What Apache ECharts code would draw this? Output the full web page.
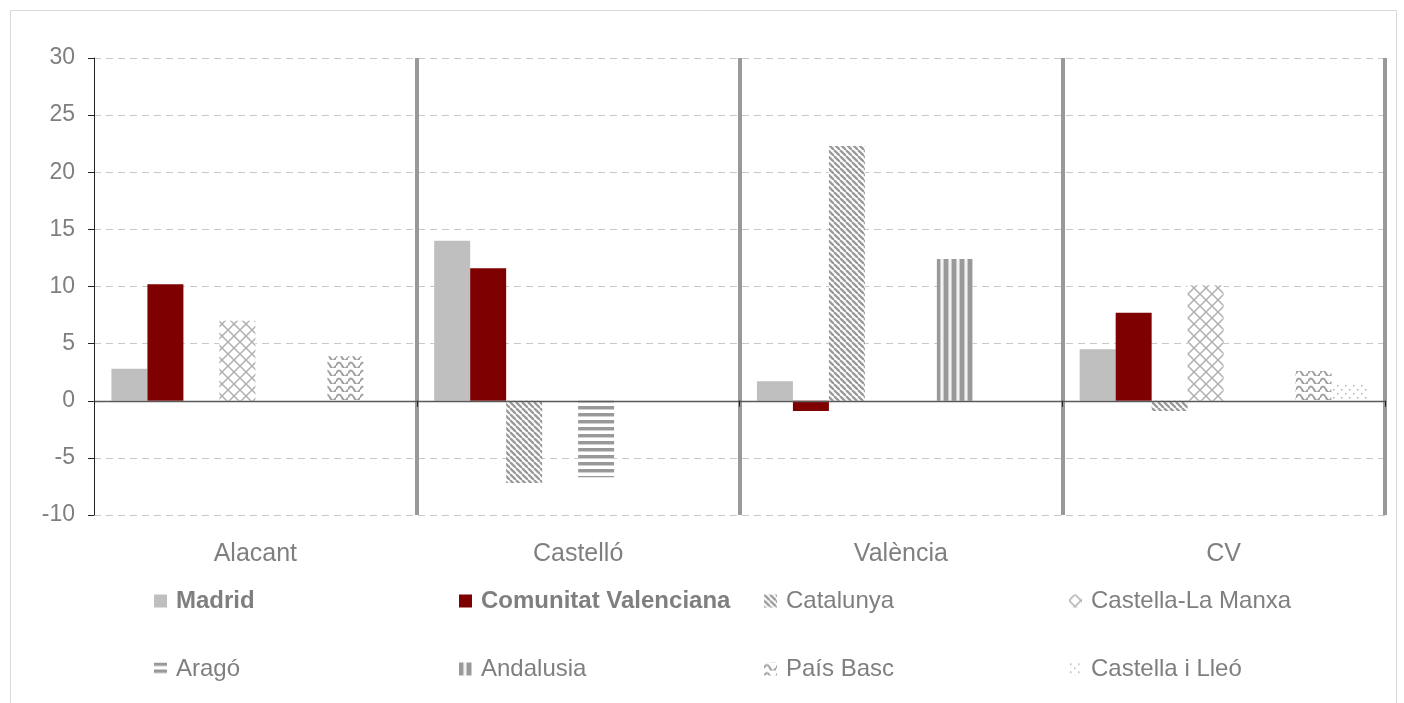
<!DOCTYPE html>
<html><head><meta charset="utf-8">
<script src="https://cdn.jsdelivr.net/npm/echarts@6/dist/echarts.min.js"></script>
<style>html,body{margin:0;padding:0;background:#fff}#c{width:1404px;height:703px}</style>
</head><body><div id="c"></div>
<script>
const categories = ['Alacant', 'Castelló', 'València', 'CV'];
const seriesNames = ['Madrid', 'Comunitat Valenciana', 'Catalunya', 'Castella-La Manxa', 'Aragó', 'Andalusia', 'País Basc', 'Castella i Lleó'];
const madrid = [2.8, 14.0, 1.7, 4.5];
const comunitatValenciana = [10.2, 11.6, -0.9, 7.7];
const catalunya = [null, -7.2, 22.3, -0.9];
const castellaLaManxa = [7.0, null, null, 10.1];
const arago = [null, -6.7, null, null];
const andalusia = [null, null, 12.4, null];
const paisBasc = [3.9, null, null, 2.6];
const castellaILleo = [null, null, null, 1.5];
const yTicks = { min: -10, max: 30, interval: 5 };

const FONT = '"Liberation Sans", Arial, sans-serif';
const TXT = '#7f7f7f';

function mk(w, h, draw) {
  const c = document.createElement('canvas');
  c.width = w; c.height = h;
  const g = c.getContext('2d');
  g.fillStyle = '#fff'; g.fillRect(0, 0, w, h);
  draw(g);
  return { image: c, repeat: 'repeat' };
}
const patCatalunya = mk(6, 6, g => {
  g.strokeStyle = '#9a9a9a'; g.lineWidth = 2.3;
  for (const k of [-6, 0, 6]) { g.beginPath(); g.moveTo(k, 0); g.lineTo(k + 6, 6); g.stroke(); }
});
const patCLM = mk(12, 12, g => {
  g.strokeStyle = '#b0b0b0'; g.lineWidth = 1.5;
  g.beginPath(); g.moveTo(6, 0); g.lineTo(12, 6); g.lineTo(6, 12); g.lineTo(0, 6); g.closePath(); g.stroke();
});
const patArago = mk(4, 7, g => {
  g.fillStyle = '#999999'; g.fillRect(0, 0, 4, 3);
  g.fillStyle = '#d0d0d0'; g.fillRect(0, 3, 4, 1);
});
const patAndalusia = mk(8, 4, g => {
  g.fillStyle = '#999999'; g.fillRect(0, 0, 4, 4);
  g.fillStyle = '#cccccc'; g.fillRect(4, 0, 1, 4); g.fillRect(7, 0, 1, 4);
  g.fillStyle = '#f2f2f2'; g.fillRect(5, 0, 2, 4);
});
const patPB = mk(12, 8, g => {
  g.strokeStyle = '#a0a0a0'; g.lineWidth = 2;
  g.beginPath(); g.moveTo(0, 5.5);
  g.quadraticCurveTo(3, -0.5, 6, 5.5); g.quadraticCurveTo(9, 11.5, 12, 5.5);
  g.stroke();
});
const patCiL = mk(8, 8, g => {
  g.fillStyle = '#b0b0b0'; g.fillRect(1, 1, 1.5, 1.5); g.fillRect(5, 5, 1.5, 1.5);
});

const colors = ['#bfbfbf', '#7f0000', patCatalunya, patCLM, patArago, patAndalusia, patPB, patCiL];
const datas = [madrid, comunitatValenciana, catalunya, castellaLaManxa, arago, andalusia, paisBasc, castellaILleo];

const legendLeft = [154, 459, 764, 1069];
const legendTop = [589, 657];
const legends = seriesNames.map((n, i) => ({
  data: [n],
  left: legendLeft[i % 4],
  top: legendTop[Math.floor(i / 4)],
  padding: 0,
  orient: 'horizontal',
  icon: 'rect',
  itemWidth: 13, itemHeight: 13,
  itemGap: 0,
  textStyle: { fontFamily: FONT, fontSize: 24, color: TXT, fontWeight: i < 2 ? 'bold' : 'normal', padding: [0, 0, 0, 4] },
  selectedMode: false
}));

const chart = echarts.init(document.getElementById('c'), null, { renderer: 'canvas' });
chart.setOption({
  animation: false,
  backgroundColor: '#fff',
  graphic: [{ type: 'rect', shape: { x: 10.5, y: 10.5, width: 1386, height: 720 }, style: { fill: 'none', stroke: '#d9d9d9', lineWidth: 1 }, silent: true }],
  legend: legends,
  grid: { left: 94, right: 19, top: 58, bottom: 188 },
  xAxis: [
    {
      type: 'category', data: categories, position: 'bottom',
      axisLine: { show: false, onZero: false }, axisTick: { show: false },
      axisLabel: { fontFamily: FONT, fontSize: 25, color: TXT, margin: 27 },
      splitLine: { show: true, interval: 0, lineStyle: { color: ['rgba(0,0,0,0)', '#999999', '#999999', '#999999', '#999999'], width: 4 } }
    },
    {
      type: 'category', data: categories, position: 'bottom', z: 10,
      axisLine: { show: true, onZero: true, lineStyle: { color: '#595959', width: 1.3 } },
      axisTick: { show: true, inside: false, length: 6, interval: 0, lineStyle: { color: '#222', width: 1 } },
      axisLabel: { show: false }, splitLine: { show: false }
    }
  ],
  yAxis: {
    type: 'value', min: yTicks.min, max: yTicks.max, interval: yTicks.interval,
    axisLine: { show: true, lineStyle: { color: '#222', width: 1 } },
    axisTick: { show: true, length: 6, lineStyle: { color: '#222' } },
    axisLabel: { fontFamily: FONT, fontSize: 23, color: TXT, margin: 19 },
    splitLine: { show: true, lineStyle: { color: '#c8c8c8', type: [7, 5], width: 1 } }
  },
  series: seriesNames.map((n, i) => ({
    name: n, type: 'bar', xAxisIndex: 0, data: datas[i],
    barGap: '0%', barCategoryGap: '10.8%',
    itemStyle: { color: colors[i] }
  }))
});
</script></body></html>
